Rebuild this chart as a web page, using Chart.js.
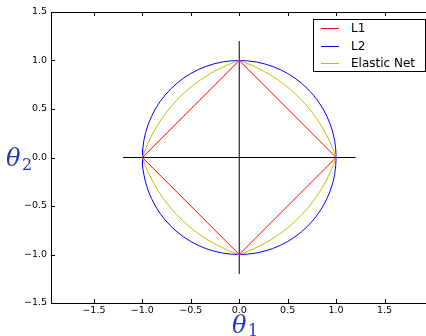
<!DOCTYPE html>
<html>
<head>
<meta charset="utf-8">
<script src="https://cdn.jsdelivr.net/npm/chart.js@4.4.0/dist/chart.umd.min.js"></script>
<style>
  html, body { margin: 0; padding: 0; background: #fff; overflow: hidden; }
  #wrap { width: 432px; height: 336px; }
</style>
</head>
<body>
<div id="wrap"><canvas id="chart" width="432" height="336"></canvas></div>
<script>
// quarter arcs, first quadrant, from (1,0) round to (0,1)
const circleQ1 = [
  [1, 0], [0.996, 0.087], [0.985, 0.174], [0.966, 0.259], [0.94, 0.342],
  [0.906, 0.423], [0.866, 0.5], [0.819, 0.574], [0.766, 0.643], [0.707, 0.707],
  [0.643, 0.766], [0.574, 0.819], [0.5, 0.866], [0.423, 0.906], [0.342, 0.94],
  [0.259, 0.966], [0.174, 0.985], [0.087, 0.996], [0, 1]
]
const elasticQ1 = [
  [1, 0], [0.975, 0.07], [0.95, 0.131], [0.9, 0.235], [0.85, 0.323],
  [0.8, 0.4], [0.75, 0.468], [0.7, 0.53], [0.65, 0.585], [0.618, 0.618],
  [0.585, 0.65], [0.53, 0.7], [0.468, 0.75], [0.4, 0.8], [0.323, 0.85],
  [0.235, 0.9], [0.131, 0.95], [0.07, 0.975], [0, 1]
]
const l1Diamond = [[1, 0], [0, 1], [-1, 0], [0, -1], [1, 0]]
const crossH = [[-1.2, 0], [1.2, 0]]
const crossV = [[0, -1.2], [0, 1.2]]

const xTicks = [-1.5, -1.0, -0.5, 0.0, 0.5, 1.0, 1.5]
const yTicks = [-1.5, -1.0, -0.5, 0.0, 0.5, 1.0, 1.5]
const xRange = [-1.9433, 1.99]
const yRange = [-1.5, 1.5]

const seriesLabels = ["L1", "L2", "Elastic Net"]
const seriesColors = ["#ff0000", "#0000ff", "#bfbf00"]
const crossColor = "#000000"
const titleBlue = "#2236c4"

function pts(arr) {
  return arr.map(([x, y]) => ({ x, y }))
}

// mirror a first-quadrant arc into all four quadrants
function fullCurve(q) {
  const q2 = q.slice().reverse().map(([x, y]) => [-x, y])
  const q3 = q.map(([x, y]) => [-x, -y])
  const q4 = q.slice().reverse().map(([x, y]) => [x, -y])
  return pts([...q, ...q2, ...q3, ...q4])
}

function fmt(v) {
  return Number(v).toFixed(1).replace("-", "\u2212")
}

const lineDs = (label, data, color, order) => ({
  label, data, order,
  borderColor: color, backgroundColor: color,
  borderWidth: 1, pointRadius: 0, showLine: true, tension: 0, fill: false
})

const framePlugin = {
  id: "frame",
  afterDatasetsDraw(chart) {
    const { ctx, chartArea: a, scales } = chart
    ctx.save()
    ctx.strokeStyle = "#000"
    ctx.lineWidth = 1
    ctx.beginPath()
    for (const v of xTicks) {
      const px = Math.round(scales.x.getPixelForValue(v)) + 0.5
      ctx.moveTo(px, a.bottom); ctx.lineTo(px, a.bottom - 4)
      ctx.moveTo(px, a.top); ctx.lineTo(px, a.top + 4)
    }
    for (const v of yTicks) {
      const py = Math.round(scales.y.getPixelForValue(v)) + 0.5
      ctx.moveTo(a.left, py); ctx.lineTo(a.left + 4, py)
      ctx.moveTo(a.right, py); ctx.lineTo(a.right - 4, py)
    }
    ctx.stroke()
    ctx.beginPath()
    ctx.strokeRect(Math.round(a.left) + 0.5, Math.round(a.top) + 0.5,
      Math.round(a.right - a.left), Math.round(a.bottom - a.top))
    ctx.restore()
  },
  afterDraw(chart) {
    const { ctx } = chart
    ctx.save()
    // legend box
    ctx.fillStyle = "#fff"
    ctx.strokeStyle = "#000"
    ctx.lineWidth = 1
    ctx.fillRect(313.5, 19.5, 112, 52)
    ctx.strokeRect(313.5, 19.5, 112, 52)
    const rows = [28, 46, 63]
    ctx.font = "12px 'DejaVu Sans'"
    ctx.textBaseline = "middle"
    seriesLabels.forEach((lab, i) => {
      ctx.strokeStyle = seriesColors[i]
      ctx.beginPath()
      ctx.moveTo(321, rows[i] + 0.5); ctx.lineTo(339, rows[i] + 0.5)
      ctx.stroke()
      ctx.fillStyle = "#000"
      ctx.fillText(lab, 351, rows[i] + 1)
    })
    // axis titles
    ctx.fillStyle = titleBlue
    ctx.textBaseline = "alphabetic"
    ctx.font = "italic 24px 'DejaVu Serif'"
    ctx.fillText("\u03b8", 6, 166)
    ctx.fillText("\u03b8", 232, 333)
    ctx.font = "16px 'DejaVu Serif'"
    ctx.fillText("2", 22, 170)
    ctx.fillText("1", 248, 336)
    ctx.restore()
  }
}

const tickFont = { family: "'DejaVu Sans'", size: 9.5 }

new Chart(document.getElementById("chart"), {
  type: "scatter",
  data: {
    datasets: [
      lineDs("h", pts(crossH), crossColor, 5),
      lineDs("v", pts(crossV), crossColor, 4),
      lineDs("L2", fullCurve(circleQ1), seriesColors[1], 3),
      lineDs("Elastic Net", fullCurve(elasticQ1), seriesColors[2], 2),
      lineDs("L1", pts(l1Diamond), seriesColors[0], 1)
    ]
  },
  options: {
    responsive: false,
    animation: false,
    layout: { padding: { left: 0, top: 12, right: 0, bottom: 0 } },
    plugins: { legend: { display: false }, tooltip: { enabled: false } },
    scales: {
      x: {
        type: "linear", min: xRange[0], max: xRange[1],
        grid: { display: false, drawTicks: false },
        border: { display: false },
        afterBuildTicks: (s) => { s.ticks = xTicks.map((v) => ({ value: v })) },
        afterFit: (s) => { s.height = 33 },
        ticks: { color: "#000", font: tickFont, padding: 2, maxRotation: 0, callback: fmt }
      },
      y: {
        type: "linear", min: yRange[0], max: yRange[1],
        grid: { display: false, drawTicks: false },
        border: { display: false },
        afterBuildTicks: (s) => { s.ticks = yTicks.map((v) => ({ value: v })) },
        afterFit: (s) => { s.width = 51 },
        ticks: { color: "#000", font: tickFont, padding: 4, callback: fmt }
      }
    }
  },
  plugins: [framePlugin]
})
</script>
</body>
</html>
